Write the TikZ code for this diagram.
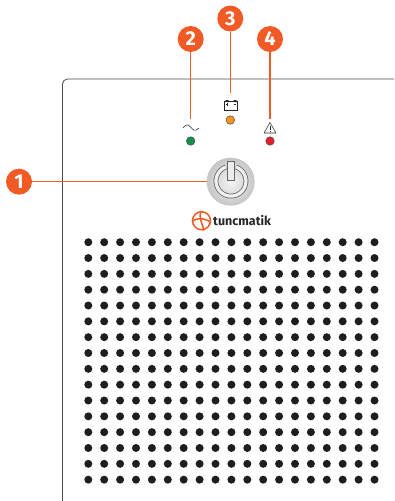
\documentclass[tikz,border=0pt]{standalone}
\usepackage{fontspec}
\setmainfont{Fira Sans}
\definecolor{calloutorange}{HTML}{F15A24}
\definecolor{panelgray}{HTML}{4A4A4A}
\definecolor{holeblack}{HTML}{1E1E1E}
\definecolor{ledgreen}{HTML}{0F9148}
\definecolor{ledorange}{HTML}{F7941D}
\definecolor{ledred}{HTML}{E21E26}
\tikzset{
    callout/.style={circle,fill=calloutorange,text=white,minimum size=26pt,inner sep=0pt,font=\fontsize{20}{20}\selectfont\bfseries},
    leader/.style={draw=calloutorange,line width=1.2pt},
    led/.style={circle,draw=panelgray,line width=0.5pt,minimum size=8.5pt,inner sep=0pt},
    symbolline/.style={draw=black!85,line width=0.55pt},
    powerline/.style={draw=black!60,line width=0.8pt},
}
\begin{document}
\begin{tikzpicture}[x=1pt,y=-1pt]
    \useasboundingbox (0,0) rectangle (394,501);
    % panel outline
    \draw[panelgray,line width=0.8pt,rounded corners=5pt] (62.5,501) -- (62.5,79) -- (394,79);
    % ventilation holes
    \foreach \col in {0,...,18} {
        \foreach \row in {0,...,15} {
            \fill[holeblack] (88.3+\col*15.9,242.2+\row*15.83) circle (4);
        }
    }
    % power button
    \node[circle,minimum size=48pt,inner sep=0pt,shading=radial,inner color=gray!8,outer color=gray!45] (powerbtn) at (230.7,181.7) {};
    \draw[powerline,double=gray!12,double distance=3.2pt] (236.1,167) arc[start angle=-70,end angle=250,radius=15];
    \draw[powerline,fill=gray!15] (227.2,161.8) rectangle (234,180.6);
    % LEDs
    \node[led,fill=ledgreen] (ledmains) at (190.7,141) {};
    \node[led,fill=ledorange] (ledbattery) at (230.3,120) {};
    \node[led,fill=ledred] (ledfault) at (270,141) {};
    % symbols above the LEDs
    \coordinate (mainstop) at (190.7,118.5);
    \coordinate (batterytop) at (230.3,93);
    \coordinate (faulttop) at (270,118.5);
    \draw[symbolline] (183,128) .. controls (187,122.5) and (190,125.5) .. (191,127.5) .. controls (192,129.5) and (195,132.5) .. (199,128);
    \draw[symbolline] (224.3,101.5) rectangle (237.6,110.3);
    \fill[black!85] (225.5,100) rectangle (228.5,102) (233.5,100) rectangle (236.5,102);
    \draw[symbolline,line width=0.4pt] (225.6,104.2) -- (228.4,104.2) (227,102.8) -- (227,105.6) (233.5,104.2) -- (236.3,104.2);
    \draw[symbolline,line join=round] (270,122.5) -- (276,133) -- (264,133) -- cycle;
    \draw[symbolline] (270,125.8) -- (270,130) (270,131) -- (270,131.9);
    % logo
    \node[circle,draw=calloutorange,line width=1.5pt,minimum size=18pt,inner sep=0pt] (logomark) at (201.5,220.7) {};
    \draw[calloutorange,line width=1.5pt] (192,221.5) .. controls (198,217) and (205,218) .. (211,222.5);
    \draw[calloutorange,line width=1.5pt] (201,211) .. controls (198,217) and (203,225) .. (204,230.5);
    \node[anchor=west,inner sep=0pt,text=black!85,font=\fontsize{12.5}{12.5}\selectfont\bfseries] (logotext) at (213,220.5) {tuncmatik};
    % callouts
    \node[callout] (badgeone) at (19,181.7) {1};
    \node[callout] (badgetwo) at (190.7,39) {2};
    \node[callout] (badgethree) at (230.3,18.5) {3};
    \node[callout] (badgefour) at (270,39) {4};
    \draw[leader] (badgeone) -- (powerbtn);
    \draw[leader] (badgetwo) -- (mainstop);
    \draw[leader] (badgethree) -- (batterytop);
    \draw[leader] (badgefour) -- (faulttop);
\end{tikzpicture}
\end{document}
